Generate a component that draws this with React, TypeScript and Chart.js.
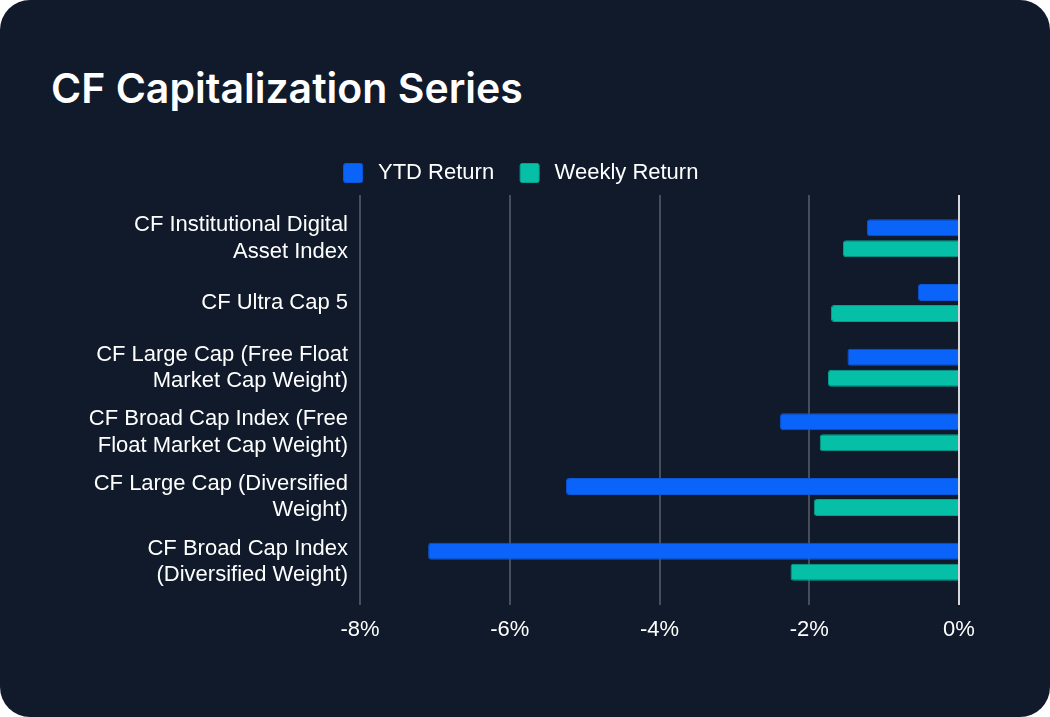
import React, { useEffect, useRef } from "react";
import { Chart, registerables } from "chart.js";

Chart.register(...registerables);

const categories: (string | string[])[] = [
  ["CF Institutional Digital", "Asset Index"],
  "CF Ultra Cap 5",
  ["CF Large Cap (Free Float", "Market Cap Weight)"],
  ["CF Broad Cap Index (Free", "Float Market Cap Weight)"],
  ["CF Large Cap (Diversified", "Weight)"],
  ["CF Broad Cap Index", "(Diversified Weight)"],
];
const ytdReturn = [-1.23, -0.55, -1.49, -2.39, -5.25, -7.09];
const weeklyReturn = [-1.55, -1.71, -1.75, -1.86, -1.94, -2.25];
const seriesNames = ["YTD Return", "Weekly Return"];
const xMin = -8;
const xMax = 0;
const xStep = 2;

const BG = "#101a2b";
const FONT = "'Liberation Sans', Arial, sans-serif";

const gridPlugin = {
  id: "extGrid",
  afterLayout(chart: any) {
    const lg = chart.legend;
    if (lg) {
      lg.left = -4;
      lg.right = chart.width - 4;
      lg.width = chart.width;
      lg.top -= 12;
      lg.bottom -= 12;
    }
  },
  beforeDatasetsDraw(chart: any) {
    const { ctx, chartArea, scales } = chart;
    const x = scales.x;
    ctx.save();
    ctx.lineWidth = 2;
    ctx.strokeStyle = "#474e5b";
    x.ticks.forEach((t: any) => {
      if (t.value === 0) return;
      const px = Math.round(x.getPixelForValue(t.value));
      ctx.beginPath();
      ctx.moveTo(px, chartArea.top - 11);
      ctx.lineTo(px, chartArea.bottom + 11);
      ctx.stroke();
    });
    ctx.restore();
  },
  afterDatasetsDraw(chart: any) {
    const { ctx, chartArea, scales } = chart;
    const x = scales.x;
    ctx.save();
    ctx.lineWidth = 2;
    ctx.strokeStyle = "#d6d8dc";
    const px = Math.round(x.getPixelForValue(0));
    ctx.beginPath();
    ctx.moveTo(px, chartArea.top - 11);
    ctx.lineTo(px, chartArea.bottom + 11);
    ctx.stroke();
    ctx.restore();
  },
};

export default function App() {
  const ref = useRef<HTMLCanvasElement | null>(null);

  useEffect(() => {
    document.body.style.margin = "0";
    const canvas = ref.current;
    if (!canvas) return;
    const chart = new Chart(canvas, {
      type: "bar",
      data: {
        labels: categories,
        datasets: [
          {
            label: seriesNames[0],
            data: ytdReturn,
            backgroundColor: "#0a64fa",
            borderColor: "#0a57d8",
            borderWidth: 1,
            borderRadius: 3,
            categoryPercentage: 0.65,
            barPercentage: 0.81,
          },
          {
            label: seriesNames[1],
            data: weeklyReturn,
            backgroundColor: "#05bfa7",
            borderColor: "#06a08e",
            borderWidth: 1,
            borderRadius: 3,
            categoryPercentage: 0.65,
            barPercentage: 0.81,
          },
        ],
      },
      options: {
        indexAxis: "y",
        animation: false,
        responsive: false,
        maintainAspectRatio: false,
        layout: { padding: { top: 18, bottom: 26, left: 0, right: 91 } },
        plugins: {
          legend: {
            position: "top",
            labels: {
              color: "#ffffff",
              font: { family: FONT, size: 22 },
              boxWidth: 19,
              boxHeight: 19,
              useBorderRadius: true,
              borderRadius: 2,
              padding: 26,
              generateLabels: (chart: any) =>
                Chart.defaults.plugins.legend.labels
                  .generateLabels(chart)
                  .map((l: any) => ({ ...l, text: "\u2009" + l.text })),
            },
          },
          title: { display: false },
          tooltip: { enabled: false },
        },
        scales: {
          x: {
            min: xMin,
            max: xMax,
            ticks: {
              stepSize: xStep,
              color: "#ffffff",
              font: { family: FONT, size: 22 },
              padding: 23,
              callback: (v: any) => `${v}%`,
            },
            grid: { display: false, drawTicks: false },
            border: { display: false },
            afterFit: (scale: any) => {
              scale.height = 70;
            },
          },
          y: {
            ticks: {
              color: "#ffffff",
              font: { family: FONT, size: 22 },
              padding: 12,
            },
            grid: { display: false, drawTicks: false },
            border: { display: false },
            afterFit: (scale: any) => {
              scale.width = 360;
            },
          },
        },
      },
      plugins: [gridPlugin],
    });
    return () => chart.destroy();
  }, []);

  return (
    <div style={{ position: "absolute", left: 0, top: 0, width: 1050, height: 717, background: "#ffffff" }}>
      <div
        style={{
          position: "absolute",
          left: 0,
          top: 0,
          width: 1050,
          height: 717,
          background: BG,
          borderRadius: 30,
          overflow: "hidden",
        }}
      >
        <div
          style={{
            position: "absolute",
            left: 51,
            top: 63,
            color: "#ffffff",
            fontFamily: "Inter, 'Noto Sans', sans-serif",
            fontWeight: 600,
            fontSize: 41,
            lineHeight: "50px",
            whiteSpace: "nowrap",
          }}
        >
          CF Capitalization Series
        </div>
        <canvas
          ref={ref}
          width={1050}
          height={560}
          style={{ position: "absolute", left: 0, top: 130, width: 1050, height: 560 }}
        />
      </div>
    </div>
  );
}
